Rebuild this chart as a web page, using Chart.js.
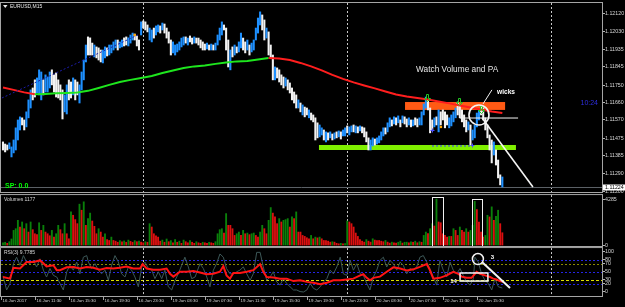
<!DOCTYPE html>
<html>
<head>
<meta charset="utf-8">
<title>EURUSD,M15</title>
<script src="https://cdn.jsdelivr.net/npm/chart.js@4.4.0/dist/chart.umd.min.js"></script>
<style>
  html, body { margin: 0; padding: 0; background: #000; }
  #wrap { position: relative; width: 625px; height: 307px; overflow: hidden; background: #000; }
  #wrap canvas { position: absolute; left: 0; }
</style>
</head>
<body>
<div id="wrap">
  <canvas id="priceChart" width="625" height="195" style="top:0"></canvas>
  <canvas id="volumeChart" width="625" height="54" style="top:194px"></canvas>
  <canvas id="rsiChart" width="625" height="60" style="top:247px"></canvas>
</div>
<script>
Chart.defaults.font.family = 'Liberation Sans';

// time axis (M15 bars, bar 0 = 16 Jun 07:30)
const timeLabels = ['16 Jun 2017', '16 Jun 11:30', '16 Jun 15:30', '16 Jun 19:30', '16 Jun 23:30',
  '19 Jun 03:30', '19 Jun 07:30', '19 Jun 11:30', '19 Jun 15:30', '19 Jun 19:30', '19 Jun 23:30',
  '20 Jun 03:30', '20 Jun 07:30', '20 Jun 11:30', '20 Jun 15:30'];
const timeLabelBars = [0, 16, 32, 48, 64, 80, 96, 112, 128, 144, 160, 176, 192, 208, 224];
const daySeparators = [66, 162, 258];

const priceTicks = [1.12120, 1.12030, 1.11935, 1.11845, 1.11750, 1.11660, 1.11570, 1.11475, 1.11385, 1.11290, 1.11200];
const volumeTicks = [0, 4285];
const rsiTicks = [0, 20, 30, 50, 70, 80, 100];
const bidPrice = 1.11224;

const barHigh = [
  1.11456,1.11445,1.11440,1.11451,1.11430,1.11466,1.11529,1.11570,1.11586,1.11581,
  1.11570,1.11612,1.11674,1.11726,1.11736,1.11778,1.11788,1.11830,1.11819,1.11778,
  1.11804,1.11793,1.11819,1.11830,1.11804,1.11814,1.11778,1.11752,1.11726,1.11700,
  1.11752,1.11778,1.11767,1.11788,1.11778,1.11767,1.11752,1.11819,1.11881,1.11959,
  1.12001,1.11996,1.11969,1.11959,1.11949,1.11944,1.11933,1.11933,1.11949,1.11944,
  1.11959,1.11959,1.11975,1.11985,1.11985,1.11975,1.11985,1.11996,1.12001,1.11996,
  1.12011,1.12021,1.12016,1.12006,1.11985,1.12079,1.12084,1.12079,1.12063,1.12047,
  1.12037,1.12047,1.12058,1.12063,1.12058,1.12073,1.12068,1.12047,1.12027,1.11985,
  1.11975,1.11959,1.11964,1.11975,1.11995,1.12001,1.12001,1.11995,1.12006,1.11995,
  1.12001,1.11995,1.11995,1.11985,1.11975,1.11964,1.11969,1.11959,1.11964,1.11959,
  1.11969,1.12011,1.12047,1.12079,1.12063,1.12047,1.11985,1.11933,1.11949,1.11959,
  1.11949,1.11975,1.12021,1.11995,1.11975,1.11985,1.11959,1.11969,1.11985,1.12047,
  1.12099,1.12131,1.12115,1.12089,1.12047,1.12027,1.11959,1.11907,1.11845,1.11840,
  1.11830,1.11804,1.11793,1.11788,1.11778,1.11762,1.11736,1.11715,1.11700,1.11674,
  1.11658,1.11648,1.11637,1.11632,1.11622,1.11606,1.11596,1.11581,1.11555,1.11544,
  1.11529,1.11518,1.11508,1.11503,1.11508,1.11497,1.11503,1.11508,1.11513,1.11508,
  1.11518,1.11529,1.11539,1.11534,1.11539,1.11544,1.11539,1.11534,1.11539,1.11534,
  1.11529,1.11508,1.11477,1.11466,1.11477,1.11471,1.11477,1.11487,1.11508,1.11529,
  1.11529,1.11555,1.11581,1.11570,1.11586,1.11581,1.11591,1.11570,1.11591,1.11586,
  1.11575,1.11581,1.11570,1.11570,1.11581,1.11575,1.11581,1.11612,1.11653,1.11689,
  1.11674,1.11632,1.11570,1.11581,1.11586,1.11622,1.11612,1.11622,1.11612,1.11596,
  1.11581,1.11596,1.11612,1.11632,1.11663,1.11648,1.11622,1.11596,1.11570,1.11560,
  1.11544,1.11518,1.11544,1.11606,1.11622,1.11637,1.11632,1.11581,1.11544,1.11492,
  1.11466,1.11456,1.11414,1.11362,1.11285,1.11274
];
const barLow = [
  1.11414,1.11404,1.11414,1.11420,1.11378,1.11399,1.11414,1.11466,1.11518,1.11544,
  1.11518,1.11534,1.11581,1.11632,1.11674,1.11689,1.11710,1.11700,1.11674,1.11700,
  1.11715,1.11715,1.11736,1.11752,1.11715,1.11689,1.11684,1.11674,1.11575,1.11612,
  1.11601,1.11674,1.11684,1.11700,1.11674,1.11700,1.11658,1.11726,1.11778,1.11871,
  1.11907,1.11907,1.11907,1.11897,1.11892,1.11881,1.11871,1.11866,1.11892,1.11902,
  1.11907,1.11918,1.11933,1.11944,1.11933,1.11944,1.11949,1.11954,1.11959,1.11954,
  1.11969,1.11985,1.11985,1.11954,1.11933,1.12011,1.12047,1.12037,1.12027,1.11985,
  1.11975,1.11995,1.12011,1.12027,1.12021,1.12037,1.12021,1.11995,1.11969,1.11907,
  1.11918,1.11907,1.11923,1.11933,1.11949,1.11959,1.11969,1.11959,1.11975,1.11964,
  1.11969,1.11969,1.11959,1.11944,1.11933,1.11933,1.11938,1.11933,1.11933,1.11933,
  1.11933,1.11959,1.11985,1.12011,1.12037,1.11933,1.11845,1.11830,1.11897,1.11907,
  1.11918,1.11923,1.11944,1.11933,1.11918,1.11933,1.11907,1.11923,1.11933,1.11985,
  1.12021,1.12063,1.12037,1.11985,1.11995,1.11907,1.11892,1.11778,1.11778,1.11788,
  1.11767,1.11752,1.11736,1.11746,1.11726,1.11710,1.11674,1.11658,1.11632,1.11632,
  1.11612,1.11596,1.11586,1.11596,1.11581,1.11570,1.11560,1.11466,1.11477,1.11482,
  1.11492,1.11466,1.11456,1.11466,1.11477,1.11466,1.11471,1.11477,1.11482,1.11471,
  1.11487,1.11487,1.11503,1.11492,1.11508,1.11508,1.11503,1.11503,1.11513,1.11503,
  1.11482,1.11456,1.11414,1.11414,1.11435,1.11440,1.11445,1.11451,1.11466,1.11487,
  1.11497,1.11508,1.11534,1.11539,1.11549,1.11544,1.11555,1.11534,1.11555,1.11549,
  1.11534,1.11544,1.11534,1.11539,1.11544,1.11534,1.11544,1.11544,1.11596,1.11632,
  1.11622,1.11503,1.11518,1.11534,1.11544,1.11508,1.11544,1.11570,1.11529,1.11544,
  1.11529,1.11539,1.11560,1.11581,1.11596,1.11581,1.11560,1.11534,1.11508,1.11518,
  1.11440,1.11466,1.11477,1.11534,1.11570,1.11596,1.11570,1.11518,1.11477,1.11414,
  1.11347,1.11388,1.11336,1.11269,1.11233,1.11222
];
// b = bull bar (blue), w = bear bar (white)
const barSide =
  'wwwbbbbbbw' + 'wbbbwwbbbw' + 'bbbwwwwwwb' + 'bwwbwwbbbb' + 'wwwbwwwbbw' +
  'bbbbwbbwwb' + 'bbwwwbwwwb' + 'bwbbwbwwww' + 'bbbbbbwbww' + 'bwwwwwbwbw' +
  'bbbbwwwbwb' + 'wbbwwbwbbb' + 'bbwwbwwwbw' + 'wwwbwwwwwb' + 'wbwwbwwwwb' +
  'bwbwbwbwbw' + 'bbwbbwbwbw' + 'wwwbbwbbbb' + 'wbbwbwbwbw' + 'wbwbwwbbbb' +
  'wwwbwbwwww' + 'bbbbwwwwwb' + 'wbbbbwwwww' + 'wbwwwb';

// moving average, one reading every 5 bars
const maLine = [
  1.11738,1.11726,1.11713,1.11703,1.11705,1.11708,1.11710,1.11713,1.11721,1.11736,
  1.11752,1.11767,1.11778,1.11788,1.11798,1.11814,1.11827,1.11840,1.11848,1.11853,
  1.11861,1.11868,1.11874,1.11876,1.11884,1.11892,1.11889,1.11881,1.11866,1.11848,
  1.11827,1.11804,1.11783,1.11765,1.11749,1.11734,1.11718,1.11702,1.11692,1.11684,
  1.11676,1.11666,1.11656,1.11645,1.11635,1.11624,1.11614,1.11606
];

const volumes = [
  250,300,200,350,600,1395,1550,2325,1705,2170,
  1550,2015,1240,2170,1460,1085,1000,2100,1395,1860,
  1240,1085,900,1395,775,1085,1860,1460,1085,2015,
  1085,620,3100,2790,2390,2015,3813,3255,4030,1860,
  2480,2990,2260,1770,1085,1550,1240,775,1085,545,
  465,775,465,400,300,450,350,420,300,500,
  380,300,450,350,400,310,250,350,300,2015,
  1705,1085,900,775,400,500,300,600,350,450,
  250,550,300,400,200,500,350,250,450,300,
  200,350,250,200,300,250,200,300,250,200,
  350,1085,1460,1550,1150,2945,1860,1860,1550,930,
  1085,1240,930,1395,1085,1150,1000,1085,1150,930,
  775,1240,1860,1550,1085,2325,3500,2990,2635,2015,
  2480,2170,2325,2390,2480,1705,2635,2480,3100,1240,
  1240,930,840,715,620,930,620,775,700,775,
  620,465,465,400,310,350,310,200,155,200,
  155,180,2260,2170,2015,1705,1150,840,545,400,
  310,545,400,310,620,500,465,465,400,350,
  465,310,220,310,250,220,300,400,220,300,
  310,250,350,300,400,250,350,300,930,1240,
  1100,1550,2015,1800,4285,2170,2100,1085,930,775,
  840,840,1550,1395,930,1705,1395,1240,1550,1240,
  1395,1860,4070,3320,2170,1240,775,930,2790,2635,
  3565,2325,2700,3255,2015,1177
];

// RSI(3) readings [bar, value]
const rsiFast = [
  [0,40],[1.7,5],[3.3,21],[4.9,70],[6.4,86],[8,66],[9.6,90],[11.1,74],[12.7,70],[14.3,78],
  [15.8,62],[17.4,82],[19,54],[20.5,37],[22.1,58],[23.7,41],[25.3,37],[26.8,21],[28.4,5],[29.2,29],
  [30,50],[31.5,66],[33.1,54],[34.7,74],[36.2,45],[37.8,86],[39.4,90],[40.2,74],[41.7,58],[43.3,70],
  [44.9,54],[46.4,45],[48,54],[49.6,29],[51.1,66],[52.7,90],[54.3,74],[55.8,45],[57.4,37],[59,62],
  [60.5,54],[62.1,37],[63.7,13],[65.3,62],[66.8,74],[68.4,58],[70,54],[71.5,33],[73.1,50],[74.7,33],
  [76.2,54],[77.8,13],[79.4,5],[81,29],[82.5,45],[84.1,66],[85.6,86],[87.2,62],[88.8,33],[90.4,37],
  [92.7,70],[94.3,58],[95.9,37],[97.4,13],[99,54],[100.5,70],[102.1,94],[103.7,86],[105.2,58],[106.8,45],
  [108.4,45],[110,50],[111.5,54],[113.1,62],[114.7,45],[116.3,29],[117.8,45],[119.4,98],[121,98],[122.5,62],
  [124.1,29],[125.7,37],[127.2,50],[128.8,25],[130.4,17],[132,33],[133.5,21],[135.1,13],[136.7,5],[138.2,5],
  [139.8,1],[141.4,0],[143,5],[144.6,21],[146.1,9],[147.7,5],[149.3,13],[150.9,25],[152.4,33],[154,54],
  [155.5,45],[157.1,62],[158.7,86],[160.2,45],[161.8,41],[163.4,78],[164.9,54],[166.5,70],[168.1,45],[169.6,41],
  [171.2,21],[172.7,5],[174.3,37],[175.9,54],[177.4,78],[179,86],[180.6,62],[182.1,78],[183.7,70],[185.3,54],
  [186.9,74],[188.4,66],[190,45],[191.5,58],[193.1,54],[194.7,62],[196.2,86],[197.8,90],[199.4,74],[200.9,58],
  [202.5,37],[204.1,17],[205.6,78],[207.2,54],[208.8,37],[210.4,74],[211.9,54],[213.5,45],[215.1,58],[216.6,41],
  [218.2,25],[219.8,17],[221.4,33],[222.1,86],[223.7,74],[225.2,45],[226.8,29],[228.4,21],[230,5],[231.5,33],
  [233.1,13],[235,9.7785]
];
// slow RSI line [bar, value]
const rsiSlow = [
  [0,37],[3.3,33],[4.9,60],[8,58],[11.1,74],[14.3,74],[17.4,78],[19,71],[20.5,63],[23.7,66],
  [25.3,54],[26.8,54],[30,61],[33.1,62],[36.2,58],[39.4,62],[42.5,60],[45.6,55],[48.8,59],[51.9,58],
  [55,60],[58.2,63],[61.3,58],[64.5,58],[65.7,69],[67.6,58],[70.7,55],[73.9,55],[77,58],[78.6,45],
  [80.2,38],[83.3,50],[86.4,50],[89.6,52],[92.7,48],[95.8,44],[99,45],[102.1,50],[103.7,64],[105.2,41],
  [106.8,33],[108.4,47],[111.5,47],[114.7,50],[117.8,54],[121,69],[122.5,50],[124.1,37],[127.2,36],[130.4,33],
  [133.5,33],[136.7,27],[139.8,29],[143,25],[146.1,23],[149.3,19],[152.4,23],[155.5,29],[158.7,29],[161.8,31],
  [164.9,33],[168.1,41],[169.6,44],[171.2,35],[172.7,29],[174.3,35],[177.4,38],[180.6,50],[183.7,61],[186.9,58],
  [190,53],[193.1,56],[196.2,62],[199.4,69],[200.9,54],[202.5,33],[205.6,35],[208.8,41],[211.9,50],[214.3,45],
  [215.8,38],[218.2,35],[220.5,35],[222.9,50],[224.5,45],[226.8,41],[229.2,37],[230.7,33],[232.3,31],[233.8,27],
  [235.4,25]
];

const BULL = '#1e90ff', BEAR = '#f2f2f2';
const MA_UP = '#1ee61e', MA_DOWN = '#ff1e1e';
const VOL_UP = '#0a800a', VOL_DOWN = '#dc1010';
const FRAME = '#a5a5a5';

const xRange = () => ({ type: 'linear', min: -0.94, max: 281.9, offset: false, display: false });

function rightAxis(min, max, values, digits) {
  return {
    type: 'linear', position: 'right', min: min, max: max,
    afterBuildTicks: s => { s.ticks = values.map(v => ({ value: v })); },
    afterFit: s => { s.width = 23; },
    border: { display: true, color: '#b4b4b4' },
    grid: { drawOnChartArea: false, drawTicks: true, tickLength: 3, color: '#b4b4b4' },
    ticks: {
      autoSkip: false, padding: 0, color: '#d6d6d6',
      font: { size: 5.3, lineHeight: 0.4 },
      callback: v => v.toFixed(digits)
    }
  };
}

function baseOptions(padding) {
  return {
    responsive: false, animation: false, devicePixelRatio: 1, events: [],
    layout: { padding: padding },
    plugins: { legend: { display: false }, tooltip: { enabled: false } }
  };
}

function line(ctx, x1, y1, x2, y2) {
  ctx.beginPath(); ctx.moveTo(x1, y1); ctx.lineTo(x2, y2); ctx.stroke();
}

function dayLines(chart) {
  const { ctx, chartArea: a, scales: { x } } = chart;
  ctx.save();
  ctx.strokeStyle = '#c8c8c8'; ctx.lineWidth = 1; ctx.setLineDash([2, 2]);
  daySeparators.forEach(b => {
    const px = Math.round(x.getPixelForValue(b)) + 0.5;
    line(ctx, px, a.top, px, a.bottom);
  });
  ctx.restore();
}

function frame(chart) {
  const { ctx, chartArea: a } = chart;
  ctx.save();
  ctx.strokeStyle = FRAME; ctx.lineWidth = 1;
  ctx.strokeRect(a.left - 0.5, a.top - 0.5, a.right - a.left + 1, a.bottom - a.top + 1);
  ctx.restore();
}

function text(ctx, str, x, y, font, color, align) {
  ctx.font = font; ctx.fillStyle = color;
  ctx.textAlign = align || 'left'; ctx.textBaseline = 'middle';
  ctx.fillText(str, x, y);
}

// ---- price pane ----
const priceDecor = {
  id: 'priceDecor',
  beforeDatasetsDraw(chart) {
    const { ctx, chartArea: a, scales: { x, y } } = chart;
    dayLines(chart);
    ctx.save();
    const by = Math.round(y.getPixelForValue(bidPrice)) + 0.5;
    ctx.strokeStyle = '#5b6066'; ctx.lineWidth = 1;
    line(ctx, a.left, by, a.right, by);
    const zone = (b0, b1, p0, p1, color) => {
      const x0 = x.getPixelForValue(b0), x1 = x.getPixelForValue(b1);
      const y0 = y.getPixelForValue(p1), y1 = y.getPixelForValue(p0);
      ctx.fillStyle = color; ctx.fillRect(x0, y0, x1 - x0, y1 - y0);
    };
    zone(189.2, 236.3, 1.11622, 1.11663, '#ff5a14');
    zone(148.7, 241.4, 1.11414, 1.11440, '#80f000');
    ctx.restore();
  },
  afterDatasetsDraw(chart) {
    const { ctx, chartArea: a, scales: { x, y } } = chart;
    const X = b => x.getPixelForValue(b), Y = p => y.getPixelForValue(p);
    ctx.save();
    ctx.beginPath(); ctx.rect(a.left, a.top, a.right - a.left, a.bottom - a.top); ctx.clip();

    // dotted trend lines
    ctx.lineWidth = 1; ctx.setLineDash([2, 2]);
    ctx.strokeStyle = '#1c1ca8';
    line(ctx, X(-0.5), Y(1.11684), X(63.5), Y(1.12011));
    ctx.strokeStyle = '#3a3aff';
    line(ctx, X(201.9), Y(1.11435), X(220.7), Y(1.11435));
    ctx.setLineDash([]);

    // fractal arrows
    ctx.strokeStyle = '#22c822'; ctx.lineWidth = 1;
    [[199.5, 1.11684], [214.6, 1.11663], [225, 1.11622]].forEach(([b, p]) => {
      const cx = Math.round(X(b)) + 0.5, cy = Math.round(Y(p)) + 0.5;
      ctx.beginPath();
      ctx.moveTo(cx - 1, cy - 4); ctx.lineTo(cx + 1, cy - 4); ctx.lineTo(cx + 1, cy);
      ctx.lineTo(cx + 3, cy); ctx.lineTo(cx, cy + 3); ctx.lineTo(cx - 3, cy); ctx.lineTo(cx - 1, cy);
      ctx.closePath(); ctx.stroke();
    });
    // small markers
    ctx.strokeStyle = '#4a4aff';
    [[201.9, 1.11518], [220.7, 1.11440]].forEach(([b, p]) => {
      const cx = Math.round(X(b)) + 0.5, cy = Math.round(Y(p)) + 0.5;
      line(ctx, cx - 2, cy, cx + 2, cy); line(ctx, cx, cy - 2, cx, cy + 2);
    });
    ctx.fillStyle = '#ffa500';
    [[206.1, 1.11533], [62, 1.12011]].forEach(([b, p]) => {
      ctx.beginPath(); ctx.arc(X(b), Y(p), 1.3, 0, Math.PI * 2); ctx.fill();
    });

    // white drawings
    ctx.strokeStyle = '#f4f4f4';
    ctx.lineWidth = 1;
    line(ctx, X(215), Y(1.11580), X(242.4), Y(1.11580));
    line(ctx, X(225.9), Y(1.11653), X(230.1), Y(1.11726));
    ctx.lineWidth = 1.6;
    ctx.beginPath(); ctx.arc(X(224), Y(1.11596), 10, 0, Math.PI * 2); ctx.stroke();
    line(ctx, X(225.5), Y(1.11580), X(249.4), Y(1.11222));

    text(ctx, 'wicks', X(232.5), Y(1.11715), 'bold 6.6px "Liberation Sans"', '#ffffff');
    text(ctx, 'Watch Volume and PA', X(194.4), Y(1.11830), '8.3px "Liberation Sans"', '#e4e4e4');
    ctx.restore();

    ctx.save();
    frame(chart);
    // symbol caption
    ctx.fillStyle = '#e8e8e8';
    ctx.beginPath(); ctx.moveTo(3, 5); ctx.lineTo(7.5, 5); ctx.lineTo(5.25, 8); ctx.closePath(); ctx.fill();
    text(ctx, 'EURUSD,M15', 10, 6.5, '5px "Liberation Sans"', '#e8e8e8');
    text(ctx, 'SP: 0.0', 5, 186, 'bold 7px "Liberation Sans"', '#00ff00');
    text(ctx, '10:24', 598, 103, '7px "Liberation Sans"', '#2e2ee0', 'right');
    // bid price label
    const by = y.getPixelForValue(bidPrice);
    ctx.fillStyle = '#ffffff';
    ctx.fillRect(a.right + 1, Math.round(by) - 2.5, 22, 6);
    text(ctx, bidPrice.toFixed(5), a.right + 3, Math.round(by) + 0.5, '5.3px "Liberation Sans"', '#000000');
    ctx.restore();
  }
};

new Chart(document.getElementById('priceChart'), {
  type: 'bar',
  data: {
    datasets: [
      {
        type: 'line', label: 'MA', order: 1,
        data: maLine.map((v, k) => ({ x: k * 5, y: v })),
        borderColor: MA_UP, borderWidth: 2, pointRadius: 0, tension: 0,
        segment: { borderColor: c => (c.p1.parsed.y >= c.p0.parsed.y ? MA_UP : MA_DOWN) }
      },
      {
        type: 'bar', label: 'EURUSD', order: 2,
        data: barLow.map((lo, i) => ({ x: i, y: [lo, barHigh[i]] })),
        backgroundColor: c => (barSide[c.dataIndex] === 'b' ? BULL : BEAR),
        barThickness: 1.4, borderWidth: 0
      }
    ]
  },
  options: Object.assign(baseOptions({ left: 1, top: 3, bottom: 3, right: 0 }), {
    scales: { x: xRange(), y: rightAxis(1.11196, 1.12177, priceTicks, 5) }
  }),
  plugins: [priceDecor]
});

// ---- volume pane ----
const volumeDecor = {
  id: 'volumeDecor',
  beforeDatasetsDraw(chart) { dayLines(chart); },
  afterDatasetsDraw(chart) {
    const { ctx, chartArea: a, scales: { x, y } } = chart;
    ctx.save();
    ctx.strokeStyle = '#f0f0f0'; ctx.lineWidth = 1;
    [[201.9, 207.1, 4469], [220.7, 225.4, 4285]].forEach(([b0, b1, top]) => {
      const x0 = Math.round(x.getPixelForValue(b0)) + 0.5, x1 = Math.round(x.getPixelForValue(b1)) + 0.5;
      const y0 = Math.round(y.getPixelForValue(top)) + 0.5;
      ctx.strokeRect(x0, y0, x1 - x0, a.bottom + 0.5 - y0);
    });
    frame(chart);
    text(ctx, 'Volumes ' + volumes[volumes.length - 1], 4, a.top + 5, '5px "Liberation Sans"', '#d8d8d8');
    ctx.restore();
  }
};

new Chart(document.getElementById('volumeChart'), {
  type: 'bar',
  data: {
    datasets: [{
      label: 'Volumes',
      data: volumes.map((v, i) => ({ x: i, y: v })),
      backgroundColor: c => (c.dataIndex === 0 || volumes[c.dataIndex] > volumes[c.dataIndex - 1] ? VOL_UP : VOL_DOWN),
      barThickness: 1.2, borderWidth: 0
    }]
  },
  options: Object.assign(baseOptions({ left: 1, top: 1, bottom: 2, right: 0 }), {
    scales: { x: xRange(), y: rightAxis(-46, 4654, volumeTicks, 0) }
  }),
  plugins: [volumeDecor]
});

// ---- RSI pane ----
const rsiLevels = [
  { v: 80, c: '#2424e6', d: [2, 2] },
  { v: 70, c: '#8c8c00', d: [2, 2] },
  { v: 50, c: '#2424e6', d: [2, 2] },
  { v: 30, c: '#dede00', d: [3, 2] },
  { v: 20, c: '#2424e6', d: [2, 2] }
];

const rsiDecor = {
  id: 'rsiDecor',
  beforeDatasetsDraw(chart) {
    const { ctx, chartArea: a, scales: { y } } = chart;
    ctx.save();
    ctx.lineWidth = 1;
    rsiLevels.forEach(l => {
      const py = Math.round(y.getPixelForValue(l.v)) + 0.5;
      ctx.strokeStyle = l.c; ctx.setLineDash(l.d);
      line(ctx, a.left, py, a.right, py);
    });
    ctx.restore();
    dayLines(chart);
  },
  afterDatasetsDraw(chart) {
    const { ctx, chartArea: a, scales: { x, y } } = chart;
    const X = b => x.getPixelForValue(b), Y = v => y.getPixelForValue(v);
    ctx.save();
    ctx.strokeStyle = '#f4f4f4'; ctx.lineWidth = 1.5;
    ctx.beginPath(); ctx.arc(X(223.5), Y(81.5), 5.5, 0, Math.PI * 2); ctx.stroke();
    ctx.lineWidth = 2;
    line(ctx, X(225.4), Y(74), X(238.6), Y(10));
    ctx.lineWidth = 1.5;
    ctx.strokeRect(X(215.1), Y(47), X(228.2) - X(215.1), Y(27) - Y(47));
    text(ctx, '3', X(229.5), Y(86), 'bold 6px "Liberation Sans"', '#ffffff');
    text(ctx, '14', X(213.6), Y(27), 'bold 6px "Liberation Sans"', '#ffffff', 'right');

    frame(chart);
    text(ctx, 'RSI(3) ' + rsiFast[rsiFast.length - 1][1].toFixed(4), 4, a.top + 5, '5px "Liberation Sans"', '#d8d8d8');

    // time axis
    ctx.strokeStyle = FRAME; ctx.lineWidth = 1;
    timeLabelBars.forEach((b, k) => {
      const px = Math.round(X(b)) - 1.5;
      line(ctx, px, a.bottom + 1, px, a.bottom + 4);
      text(ctx, timeLabels[k], px + 1, a.bottom + 4.5, '4.4px "Liberation Sans"', '#d6d6d6');
    });
    ctx.restore();
  }
};

new Chart(document.getElementById('rsiChart'), {
  type: 'line',
  data: {
    datasets: [
      {
        label: 'RSI slow', order: 1,
        data: rsiSlow.map(p => ({ x: p[0], y: p[1] })),
        borderColor: '#ff1414', borderWidth: 2, pointRadius: 0, tension: 0
      },
      {
        label: 'RSI(3)', order: 2,
        data: rsiFast.map(p => ({ x: p[0], y: p[1] })),
        borderColor: '#3d5858', borderWidth: 1, pointRadius: 0, tension: 0
      }
    ]
  },
  options: Object.assign(baseOptions({ left: 1, top: 1, bottom: 11, right: 0 }), {
    scales: { x: xRange(), y: rightAxis(-9.9, 108.6, rsiTicks, 0) }
  }),
  plugins: [rsiDecor]
});
</script>
</body>
</html>
